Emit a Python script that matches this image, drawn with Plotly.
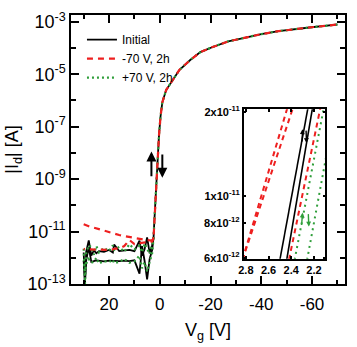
import math
import plotly.graph_objects as go

# ---------------- data ----------------
# off-state gate voltages (forward sweep 30 V -> 3 V)
VG_OFF = [30, 29.5, 29, 28, 27, 26, 25, 24, 22, 20, 18.5, 18, 16, 14, 12, 10, 8, 7, 6, 5, 4, 3]

I_BLACK_FWD = [1.6e-12, 1.0e-13, 1.7e-12, 4.6e-12, 1.2e-12, 1.9e-12, 1.5e-12, 1.8e-12, 1.7e-12, 2.0e-12, 1.6e-12,
               3.2e-12, 1.8e-12, 1.9e-12, 2.0e-12, 1.8e-12, 4.5e-12, 1.2e-12, 2.1e-12, 6.0e-12, 1.5e-12, 3.0e-12]
I_BLACK_BWD = [7.5e-13, 1.2e-13, 8.0e-13, 2.5e-12, 7.0e-13, 7.5e-13, 8.0e-13, 7.5e-13, 7.3e-13, 7.8e-13, 7.5e-13,
               7.6e-13, 7.4e-13, 7.8e-13, 7.5e-13, 8.0e-13, 2.5e-13, 2.8e-12, 7.7e-13, 1.5e-13, 9.0e-13, 2.0e-12]

I_RED_FWD = [1.9e-11, 1.85e-11, 1.75e-11, 1.6e-11, 1.5e-11, 1.4e-11, 1.3e-11, 1.2e-11, 1.05e-11, 9.2e-12, 8.5e-12,
             8.2e-12, 7.4e-12, 6.7e-12, 6.1e-12, 5.6e-12, 5.2e-12, 5.0e-12, 4.9e-12, 4.7e-12, 4.6e-12, 4.5e-12]
I_RED_BWD = [2.2e-12, 2.1e-12, 2.0e-12, 2.0e-12, 2.1e-12, 2.0e-12, 2.0e-12, 2.1e-12, 2.0e-12, 2.0e-12, 2.1e-12,
             2.2e-12, 2.3e-12, 2.8e-12, 4.8e-12, 3.3e-12, 3.6e-12, 3.8e-12, 3.9e-12, 4.0e-12, 4.1e-12, 4.2e-12]

I_GREEN_FWD = [2.2e-12, 1.0e-13, 1.5e-12, 3.0e-12, 2.5e-12, 1.3e-12, 2.8e-12, 1.6e-12, 2.4e-12, 1.8e-12, 3.0e-12,
               2.0e-12, 2.6e-12, 1.7e-12, 3.3e-12, 2.1e-12, 2.9e-12, 1.6e-12, 3.5e-12, 2.3e-12, 1.4e-12, 3.2e-12]
I_GREEN_BWD = [8.0e-13, 3.0e-13, 6.0e-13, 9.0e-13, 6.5e-13, 7.0e-13, 1.0e-12, 6.0e-13, 7.5e-13, 6.8e-13, 8.5e-13,
               6.2e-13, 7.0e-13, 9.0e-13, 6.5e-13, 7.3e-13, 1.2e-12, 4.0e-13, 6.8e-13, 3.0e-13, 7.0e-13, 1.5e-12]

# sub-threshold + on-state (common to the three measurements)
VG_ON = [2.45, 2.2, 1.9, 1.5, 1.1, 0.7, 0.3, -0.3, -1.0, -2.5, -4.4, -7.7, -12, -16, -20.6, -27, -33.8, -40,
         -46.8, -53, -59.8, -65, -70]
I_ON = [6e-12, 2e-11, 8e-11, 4e-10, 2e-9, 1e-8, 5e-8, 2.5e-7, 8.5e-7, 2.5e-6, 4.7e-6, 1.45e-5, 3.5e-5, 7e-5,
        1.07e-4, 1.8e-4, 2.5e-4, 3.4e-4, 4.4e-4, 5.3e-4, 6.2e-4, 7.0e-4, 7.9e-4]

# inset: each line = gate voltages at the two currents INSET_I
INSET_I = [5.9e-12, 2.1e-11]
INSET_BLACK = [[2.50, 2.25], [2.44, 2.21]]
INSET_RED = [[2.83, 2.43], [2.83, 2.38], [2.42, 2.14]]
INSET_GREEN = [[2.37, 2.11], [2.26, 2.01]]

X_TICKS = [20, 0, -20, -40, -60]
X_MINOR = [30, 10, -10, -30, -50, -70]
Y_TICK_EXP = [-3, -5, -7, -9, -11, -13]
Y_MINOR_EXP = [-4, -6, -8, -10, -12]
INSET_X_TICKS = [2.8, 2.6, 2.4, 2.2]
INSET_Y_TICKS = [2e-11, 1e-11, 8e-12, 6e-12]
INSET_Y_TEXT = ["2x10<sup>-11</sup>", "1x10<sup>-11</sup>", "8x10<sup>-12</sup>", "6x10<sup>-12</sup>"]

BLACK = "#000000"
RED = "#ee1f1f"
GREEN = "#2f9e3a"
FONT = "Liberation Sans, Arial, sans-serif"


def sweep(fwd, bwd):
    # forward: off (30 V -> 3 V) then on-state to -70 V; gap; return branch of off-state from threshold
    x = VG_OFF + VG_ON + [None] + VG_ON[:1] + VG_OFF[::-1]
    y = fwd + I_ON + [None] + I_ON[:1] + bwd[::-1]
    return x, y


fig = go.Figure()

series = [
    ("Initial", I_BLACK_FWD, I_BLACK_BWD, BLACK, "solid", 1.8, 1),
    ("+70 V, 2h", I_GREEN_FWD, I_GREEN_BWD, GREEN, "2px,3px", 2.2, 3),
    ("-70 V, 2h", I_RED_FWD, I_RED_BWD, RED, "6px,5px", 2.2, 2),
]
for name, fwd, bwd, col, dash, w, rank in series:
    x, y = sweep(fwd, bwd)
    fig.add_trace(go.Scatter(x=x, y=y, mode="lines", name=name, legendrank=rank, connectgaps=False,
                             line=dict(color=col, dash=dash, width=w), xaxis="x", yaxis="y"))

# inset traces
for vgs in INSET_BLACK:
    fig.add_trace(go.Scatter(x=vgs, y=INSET_I, mode="lines", showlegend=False,
                             line=dict(color=BLACK, width=1.6), xaxis="x2", yaxis="y2"))
for vgs in INSET_RED:
    fig.add_trace(go.Scatter(x=vgs, y=INSET_I, mode="lines", showlegend=False,
                             line=dict(color=RED, width=2, dash="5px,4px"), xaxis="x2", yaxis="y2"))
for vgs in INSET_GREEN:
    fig.add_trace(go.Scatter(x=vgs, y=INSET_I, mode="lines", showlegend=False,
                             line=dict(color=GREEN, width=2, dash="2px,4px"), xaxis="x2", yaxis="y2"))

axis_common = dict(showline=True, linecolor="black", linewidth=1.5, mirror="ticks", ticks="inside",
                   tickcolor="black", tickwidth=1.5, showgrid=False, zeroline=False)

fig.update_layout(
    width=357, height=347,
    margin=dict(l=71, r=10, t=10, b=60),
    paper_bgcolor="white", plot_bgcolor="white",
    font=dict(family=FONT, color="black"),
    xaxis=dict(axis_common, range=[35, -73], tickmode="array", tickvals=X_TICKS,
               ticktext=[str(v) if v >= 0 else "-" + str(-v) for v in X_TICKS], ticklen=8,
               tickfont=dict(size=17), ticklabelstandoff=4,
               minor=dict(tickvals=X_MINOR, ticks="inside", ticklen=4, tickcolor="black", tickwidth=1.5),
               title=dict(text="V<sub>g</sub> [V]", font=dict(size=18), standoff=10)),
    yaxis=dict(axis_common, type="log", range=[-13, -2.74], tickmode="array",
               tickvals=[10.0 ** e for e in Y_TICK_EXP],
               ticktext=["10<sup>%d</sup>" % e for e in Y_TICK_EXP], ticklen=8,
               tickfont=dict(size=18),
               minor=dict(tickvals=[10.0 ** e for e in Y_MINOR_EXP], ticks="inside", ticklen=5,
                          tickcolor="black", tickwidth=1.5),
               title=dict(text="|I<sub>d</sub>| [A]", font=dict(size=18), standoff=4)),
    xaxis2=dict(axis_common, domain=[0.630, 0.928], anchor="y2", range=[2.82, 2.1], tickmode="array",
                tickvals=INSET_X_TICKS, ticktext=["%.1f" % v for v in INSET_X_TICKS], ticklen=3,
                tickfont=dict(size=11, weight="bold")),
    yaxis2=dict(axis_common, domain=[0.094, 0.650], anchor="x2", type="log",
                range=[math.log10(5.95e-12), math.log10(2.05e-11)], tickmode="array",
                tickvals=INSET_Y_TICKS, ticktext=INSET_Y_TEXT, ticklen=3,
                tickfont=dict(size=11, weight="bold")),
    legend=dict(x=0.04, y=0.962, xanchor="left", yanchor="top", bgcolor="rgba(0,0,0,0)",
                font=dict(size=12, color="black"), itemwidth=30, tracegroupgap=0),
)

# dashed connectors from the zoomed region toward the inset (main axes coords, log for y)
for (x0, y0, x1, y1) in [(2.2, math.log10(2.4e-11), -27.2, -7.11), (2.6, math.log10(4.6e-12), -21.4, -11.74)]:
    fig.add_shape(type="line", xref="x", yref="y", x0=x0, y0=y0, x1=x1, y1=y1,
                  line=dict(color="black", width=1.2, dash="4px,3px"))

# sweep direction arrows (main plot)
arrows_main = [(3.3, -8.95, 3.3, -7.95), (-1.0, -8.0, -1.0, -8.95)]
for (xt, yt, xh, yh) in arrows_main:
    fig.add_annotation(x=xh, y=yh, ax=xt, ay=yt, xref="x", yref="y", axref="x", ayref="y", text="",
                       showarrow=True, arrowhead=2, arrowsize=1.0, arrowwidth=2, arrowcolor="black")

# sweep direction arrows (inset)
arrows_inset = [(2.305, -10.81, 2.30, -10.76, "black"), (2.27, -10.76, 2.265, -10.81, "black"),
                (2.31, -11.11, 2.30, -11.06, GREEN), (2.25, -11.06, 2.245, -11.11, GREEN)]
for (xt, yt, xh, yh, col) in arrows_inset:
    fig.add_annotation(x=xh, y=yh, ax=xt, ay=yt, xref="x2", yref="y2", axref="x2", ayref="y2", text="",
                       showarrow=True, arrowhead=2, arrowsize=0.7, arrowwidth=1.4, arrowcolor=col)

fig.write_html("out.html")
